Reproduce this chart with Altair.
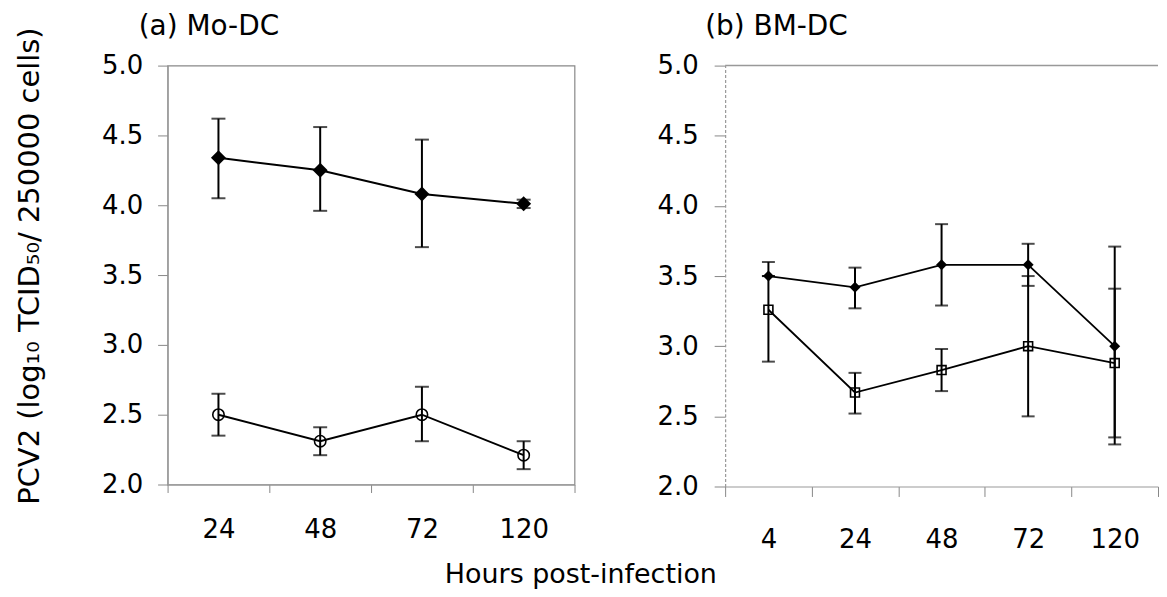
import altair as alt
import pandas as pd

# ---- data ----
A_HOURS = ["24", "48", "72", "120"]
A_FILLED_MEAN = [4.34, 4.25, 4.08, 4.01]
A_FILLED_LO = [4.05, 3.96, 3.70, 3.98]
A_FILLED_HI = [4.62, 4.56, 4.47, 4.04]
A_OPEN_MEAN = [2.50, 2.31, 2.50, 2.21]
A_OPEN_LO = [2.35, 2.21, 2.31, 2.11]
A_OPEN_HI = [2.65, 2.41, 2.70, 2.31]

B_HOURS = ["4", "24", "48", "72", "120"]
B_FILLED_MEAN = [3.50, 3.42, 3.58, 3.58, 3.00]
B_FILLED_LO = [3.50, 3.27, 3.29, 3.43, 2.30]
B_FILLED_HI = [3.50, 3.56, 3.87, 3.73, 3.71]
B_OPEN_MEAN = [3.26, 2.67, 2.83, 3.00, 2.88]
B_OPEN_LO = [2.89, 2.52, 2.68, 2.50, 2.35]
B_OPEN_HI = [3.60, 2.81, 2.98, 3.50, 3.41]

Y_TICKS = [2.0, 2.5, 3.0, 3.5, 4.0, 4.5, 5.0]
Y_TITLE = "PCV2 (log\u2081\u2080 TCID\u2085\u2080/ 250000 cells)"
X_TITLE = "Hours post-infection"
FONT = "DejaVu Sans"
LAB = 26     # tick labels
TIT = 28     # panel titles
AXT = 27     # x title
YT = 29      # y title


def frame(hours, mean, lo, hi):
    return pd.DataFrame({"hours": hours, "mean": mean, "lo": lo, "hi": hi})


def panel(hours, filled, opened, open_shape, d_size, o_size, o_stroke, line_w, cap,
          width, height, title, title_dx, x_label_pad, y_label_pad,
          tick_x, tick_y, dashed_left, top_rule):
    xs = alt.X(
        "hours:N", sort=hours,
        scale=alt.Scale(type="band", domain=hours, paddingInner=0, paddingOuter=0),
        axis=alt.Axis(title=None, labelAngle=0, tickBand="extent", labelFont=FONT,
                      labelFontSize=LAB, labelColor="black", labelPadding=x_label_pad,
                      tickSize=tick_x, tickColor="#888888", domainColor="#999999",
                      domainWidth=1.2, grid=False),
    )
    yaxis_kw = dict(values=Y_TICKS, format=".1f", labelFont=FONT, labelFontSize=LAB,
                    labelColor="black", labelPadding=y_label_pad, tickSize=tick_y,
                    tickColor="#888888", domainColor="#999999", domainWidth=1.2,
                    grid=False, title=None)
    if dashed_left:
        yaxis_kw["domainDash"] = [3, 2]
    yscale = alt.Scale(domain=[2, 5], nice=False, zero=False)

    def yenc(field):
        return alt.Y(field + ":Q", scale=yscale, axis=alt.Axis(**yaxis_kw))

    layers = []
    if top_rule:
        layers.append(
            alt.Chart(pd.DataFrame({"v": [5.0]})).mark_rule(color="#999999", strokeWidth=1.5)
            .encode(y=alt.Y("v:Q", scale=yscale, axis=alt.Axis(**yaxis_kw)))
        )
    for df, shape, filled_flag, size in [
        (filled, "diamond", True, d_size),
        (opened, open_shape, False, o_size),
    ]:
        base = alt.Chart(df)
        layers.append(base.mark_rule(color="black", strokeWidth=2)
                      .encode(x=xs, y=yenc("lo"), y2="hi:Q"))
        layers.append(base.mark_tick(color="black", size=cap, thickness=2)
                      .encode(x=xs, y=yenc("lo")))
        layers.append(base.mark_tick(color="black", size=cap, thickness=2)
                      .encode(x=xs, y=yenc("hi")))
        layers.append(base.mark_line(color="black", strokeWidth=line_w)
                      .encode(x=xs, y=yenc("mean")))
        if filled_flag:
            layers.append(base.mark_point(shape=shape, filled=True, size=size,
                                          color="black", opacity=1)
                          .encode(x=xs, y=yenc("mean")))
        else:
            layers.append(base.mark_point(shape=shape, filled=False, size=size,
                                          color="black", strokeWidth=o_stroke, opacity=1)
                          .encode(x=xs, y=yenc("mean")))
    return alt.layer(*layers).properties(
        width=width, height=height,
        title=alt.TitleParams(title, anchor="start", frame="group", font=FONT,
                              fontSize=TIT, fontWeight="normal", color="black",
                              dx=title_dx, offset=12),
    )


pa = panel(A_HOURS,
           frame(A_HOURS, A_FILLED_MEAN, A_FILLED_LO, A_FILLED_HI),
           frame(A_HOURS, A_OPEN_MEAN, A_OPEN_LO, A_OPEN_HI),
           "circle", 225, 130, 1.6, 2, 14, 408, 420, "(a) Mo-DC", -29,
           24, 15, 8, 10, False, False).properties(
    view=alt.ViewBackground(stroke="#888888", strokeWidth=1.2))

pb = panel(B_HOURS,
           frame(B_HOURS, B_FILLED_MEAN, B_FILLED_LO, B_FILLED_HI),
           frame(B_HOURS, B_OPEN_MEAN, B_OPEN_LO, B_OPEN_HI),
           "square", 121, 80, 1.6, 1.8, 13, 434, 422, "(b) BM-DC", -20,
           30, 16, 10, 11, True, True).properties(
    view=alt.ViewBackground(stroke=None))

ytitle = alt.Chart(pd.DataFrame({"t": [Y_TITLE]})).mark_text(
    angle=270, align="center", baseline="middle", font=FONT, fontSize=YT, color="black"
).encode(
    text="t:N", x=alt.value(15), y=alt.value(201)
).properties(width=30, height=420, view=alt.ViewBackground(stroke=None))

left = alt.hconcat(ytitle, pa, spacing=55)

chart = alt.hconcat(left, pb, spacing=80).properties(
    title=alt.TitleParams(X_TITLE, orient="bottom", anchor="middle",
                          font=FONT, fontSize=AXT, fontWeight="normal", color="black",
                          offset=10, dx=-6),
    padding={"left": 7, "top": 3, "right": 0, "bottom": 0},
    background="white",
)

chart.save("out.html", embed_options={"renderer": "svg", "actions": False})
